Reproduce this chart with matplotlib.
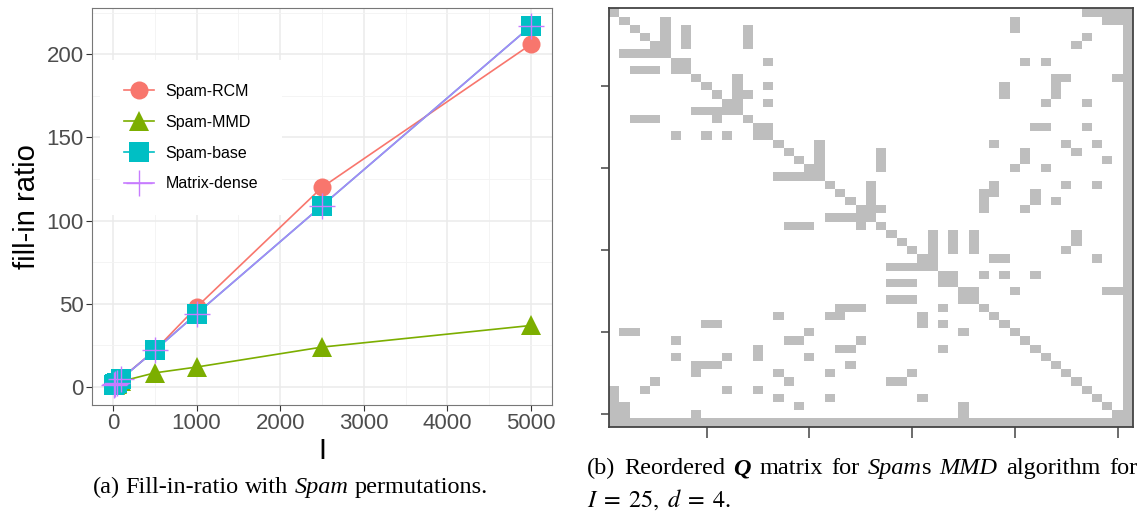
import matplotlib
matplotlib.use("Agg")
import matplotlib.pyplot as plt
from matplotlib.colors import ListedColormap
from matplotlib.ticker import MultipleLocator
import numpy as np

# fill-in ratio for each problem size I
sizes = [10, 25, 50, 100, 500, 1000, 2500, 5000]
spam_rcm = [1.2, 1.6, 2.8, 5.2, 22, 48, 120, 206]
spam_mmd = [1.0, 1.4, 2.0, 3.4, 8.5, 12, 24, 37]
spam_base = [1.1, 1.6, 2.7, 5.0, 22, 44, 109, 217]
matrix_dense = [1.1, 1.6, 2.7, 5.0, 22, 44, 109, 217]

series_names = ["Spam-RCM", "Spam-MMD", "Spam-base", "Matrix-dense"]
series_colors = ["#F8766D", "#7CAE00", "#00BFC4", "#C77CFF"]
series_markers = ["o", "^", "s", "+"]
series_msize = [13, 15, 14, 19]

# sparsity of the reordered Q: upper-triangle neighbours per row (1-based),
# the diagonal and the last row/column are fully populated
n_vars = 51
upper_nz = {
    1: [47, 48, 49, 50],
    2: [6, 40, 49, 50],
    3: [6, 8, 14, 40],
    4: [6, 8, 14, 47],
    5: [6, 8, 14, 46],
    7: [8, 16, 41, 43],
    9: [13, 44, 45, 50],
    10: [13, 16, 39, 44],
    11: [13, 14, 39, 44],
    12: [13, 16, 43, 47],
    15: [16, 42, 43, 47],
    17: [21, 38, 45, 48],
    18: [21, 27, 41, 46],
    19: [21, 27, 41, 49],
    20: [21, 27, 40, 43],
    22: [26, 38, 45, 48],
    23: [26, 37, 38, 42],
    24: [26, 37, 42, 44],
    25: [26, 27, 37, 41],
    28: [32, 34, 36, 46],
    29: [32, 34, 36, 46],
    30: [32, 34, 36, 45],
    31: [32, 38, 39, 48],
    33: [34, 37, 39, 42],
    35: [36, 40, 49, 50],
}

Q = np.eye(n_vars)
for r, cols in upper_nz.items():
    for c in cols:
        Q[r - 1, c - 1] = 1
        Q[c - 1, r - 1] = 1
Q[-1, :] = 1
Q[:, -1] = 1

plt.rcParams["mathtext.fontset"] = "stix"
fig = plt.figure(figsize=(11.47, 5.20), dpi=100)
W, H = 1147, 520

# ---- left panel: fill-in ratio ----
ax = fig.add_axes([92 / W, 1 - 405 / H, 460 / W, 397 / H])
all_series = [spam_rcm, spam_mmd, spam_base, matrix_dense]
for vals, col, name in zip(all_series, series_colors, series_names):
    alpha = 0.85 if name == "Matrix-dense" else 1.0
    ax.plot(sizes, vals, color=col, lw=1.2, alpha=alpha, zorder=2)
handles = []
for vals, col, mk, ms, name in zip(all_series, series_colors, series_markers,
                                   series_msize, series_names):
    ax.plot(sizes, vals, ls="none", marker=mk, ms=ms, color=col,
            mew=1.0 if mk == "+" else 0, zorder=3)
    handles.append(plt.Line2D([], [], color=col, lw=1.2, marker=mk, ms=ms,
                              mew=1.0 if mk == "+" else 0))

ax.set_xlim(-250, 5250)
ax.set_ylim(-10.8, 227.8)
ax.xaxis.set_major_locator(MultipleLocator(1000))
ax.xaxis.set_minor_locator(MultipleLocator(500))
ax.yaxis.set_major_locator(MultipleLocator(50))
ax.yaxis.set_minor_locator(MultipleLocator(25))
ax.grid(which="major", color="#EBEBEB", lw=1.1)
ax.grid(which="minor", color="#F3F3F3", lw=0.6)
ax.set_axisbelow(True)
for sp in ax.spines.values():
    sp.set_color("#777777")
    sp.set_linewidth(0.8)
ax.tick_params(which="major", length=4, width=0.8, color="#333333",
               labelsize=16, labelcolor="#4D4D4D", pad=2)
ax.tick_params(which="minor", length=0)
for lab in ax.get_xticklabels() + ax.get_yticklabels():
    lab.set_family("Liberation Sans")
ax.set_xlabel("I", fontsize=21, family="Liberation Sans", labelpad=2)
ax.set_ylabel("fill-in ratio", fontsize=21, family="Liberation Sans", labelpad=4)

leg = ax.legend(handles, series_names, loc="upper left",
                bbox_to_anchor=(0.017, 0.87), frameon=True, fancybox=False,
                edgecolor="none", facecolor="white", framealpha=1,
                prop={"family": "Liberation Sans", "size": 11.5},
                borderpad=1.5, labelspacing=1.0, handlelength=1.9,
                handletextpad=0.7, borderaxespad=0)

# ---- right panel: reordered Q pattern ----
ax2 = fig.add_axes([609 / W, 1 - 426.5 / H, 524 / W, 418.2 / H])
edges = np.arange(0.5, n_vars + 1.0)
ax2.pcolormesh(edges, edges, Q, cmap=ListedColormap(["white", "#BEBEBE"]),
               vmin=0, vmax=1, shading="flat", antialiased=False)
ax2.set_xlim(0.5, n_vars + 0.5)
ax2.set_ylim(n_vars + 0.5, 0.5)
ax2.set_xticks([10, 20, 30, 40, 50])
ax2.set_yticks([10, 20, 30, 40, 50])
ax2.set_xticklabels([])
ax2.set_yticklabels([])
ax2.tick_params(axis="x", length=8, width=1.1, color="#444444")
ax2.tick_params(axis="y", length=6, width=1.1, color="#444444")
for sp in ax2.spines.values():
    sp.set_color("#444444")
    sp.set_linewidth(1.3)

# ---- captions ----
serif = "Liberation Serif"
cap_size = 17.5
renderer = fig.canvas.get_renderer()


def text_width(s, **kw):
    t = fig.text(0, 0, s, fontsize=cap_size, family=serif, **kw)
    w = t.get_window_extent(renderer).width / fig.bbox.width
    t.remove()
    return w


def caption_line(x0, y, words, x1=None):
    space = text_width("a a") - text_width("aa")
    widths = [[text_width(s, **st) for s, st in word] for word in words]
    total = sum(sum(w) for w in widths) + space * (len(words) - 1)
    gap = space
    if x1 is not None and len(words) > 1:
        gap = space + ((x1 - x0) - total) / (len(words) - 1)
    x = x0
    for word, ws in zip(words, widths):
        for (s, st), w in zip(word, ws):
            fig.text(x, y, s, fontsize=cap_size, family=serif,
                     va="baseline", **st)
            x += w
        x += gap


rm = {}
it = {"style": "italic"}
bi = {"style": "italic", "weight": "bold"}

left_words = [[("(a)", rm)], [("Fill-in-ratio", rm)], [("with", rm)],
              [("Spam", it)], [("permutations.", rm)]]
lw_total = sum(text_width(s, **st) for w in left_words for s, st in w) \
    + (len(left_words) - 1) * (text_width("a a") - text_width("aa"))
caption_line(290 / W - lw_total / 2, 1 - 493 / H, left_words)

right_words = [[("(b)", rm)], [("Reordered", rm)], [("Q", bi)],
               [("matrix", rm)], [("for", rm)], [("Spam", it), ("s", rm)],
               [("MMD", it)], [("algorithm", rm)], [("for", rm)]]
caption_line(587 / W, 1 - 474 / H, right_words, x1=1137 / W)
fig.text(587 / W, 1 - 507 / H, r"$I\;=\;25,\;d\;=\;4$.", fontsize=cap_size,
         family=serif, va="baseline")

fig.savefig("out.png", dpi=100)
